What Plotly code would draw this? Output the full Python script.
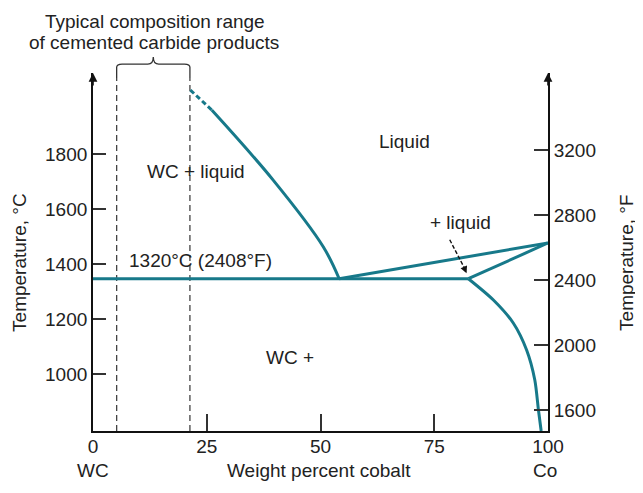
import plotly.graph_objects as go

# ---- data (weight % Co, temperature in °F on the right-hand axis) ----
liq_wc_x = [21.4, 26.1, 39.6, 50.6, 54.1]
liq_wc_F = [3569, 3446, 3015, 2605, 2408]
liq_co_x = [54.1, 100]
liq_co_F = [2408, 2628]
sol_x = [82.5, 100]
sol_F = [2408, 2628]
eut_x = [0, 82.5]
eut_F = [2408, 2408]
solvus_x = [82.5, 88.0, 92.4, 95.3, 97.1, 97.9, 98.5]
solvus_F = [2408, 2277, 2134, 1969, 1785, 1600, 1471]
range_x = [5.2, 21.3]          # typical cemented carbide range
range_F = [1471, 3643]
pointer_x = [78.4, 81.7]       # "+ liquid" pointer (dashed part)
pointer_F = [2648, 2470]

x_ticks = [0, 25, 50, 75, 100]
c_ticks = [1000, 1200, 1400, 1600, 1800]
f_ticks = [1600, 2000, 2400, 2800, 3200]

TEAL = "#17798a"
FONT = "Liberation Sans, Arial, Helvetica, sans-serif"
FS = 19

fig = go.Figure()
fig.add_trace(go.Scatter(x=[None], y=[None], yaxis="y", showlegend=False, hoverinfo="skip"))

# dashed vertical composition-range lines
for xv in range_x:
    fig.add_trace(go.Scatter(x=[xv, xv], y=range_F, yaxis="y2", mode="lines",
                             line=dict(color="#444", width=1.3, dash="6px,4px"),
                             showlegend=False, hoverinfo="skip"))

# liquidus (WC side): dashed top, solid remainder
fig.add_trace(go.Scatter(x=liq_wc_x[:2], y=liq_wc_F[:2], yaxis="y2", mode="lines",
                         line=dict(color=TEAL, width=3, dash="5px,3px"), showlegend=False))
fig.add_trace(go.Scatter(x=liq_wc_x[1:], y=liq_wc_F[1:], yaxis="y2", mode="lines",
                         line=dict(color=TEAL, width=3, shape="spline", smoothing=1.0), showlegend=False))
fig.add_trace(go.Scatter(x=liq_co_x, y=liq_co_F, yaxis="y2", mode="lines",
                         line=dict(color=TEAL, width=3), showlegend=False))
fig.add_trace(go.Scatter(x=sol_x, y=sol_F, yaxis="y2", mode="lines",
                         line=dict(color=TEAL, width=3), showlegend=False))
fig.add_trace(go.Scatter(x=eut_x, y=eut_F, yaxis="y2", mode="lines",
                         line=dict(color=TEAL, width=3), showlegend=False))
fig.add_trace(go.Scatter(x=solvus_x, y=solvus_F, yaxis="y2", mode="lines",
                         line=dict(color=TEAL, width=3, shape="spline", smoothing=0.8), showlegend=False))
# dashed pointer stem
fig.add_trace(go.Scatter(x=pointer_x, y=pointer_F, yaxis="y2", mode="lines",
                         line=dict(color="#111", width=1.4, dash="4px,2px"), showlegend=False,
                         hoverinfo="skip"))

tf = dict(family=FONT, size=FS, color="#222")

ann = []
def txt(t, x, y, xref="x", yref="y2", **kw):
    d = dict(text=t, x=x, y=y, xref=xref, yref=yref, showarrow=False, font=tf,
             xanchor="center", yanchor="middle")
    d.update(kw)
    ann.append(d)

txt("Liquid", 68.4, 3255)
txt("WC + liquid", 22.6, 3065)
txt("+ liquid", 80.7, 2757)
txt("1320°C (2408°F)", 23.6, 2523)
txt("WC +", 43.3, 1926)
txt("Typical composition range", 0.136, 1.1425, xref="paper", yref="paper")
txt("of cemented carbide products", 0.134, 1.0838, xref="paper", yref="paper")
txt("WC", 0.0, -0.109, xref="paper", yref="paper")
txt("Weight percent cobalt", 0.496, -0.109, xref="paper", yref="paper")
txt("Co", 0.993, -0.109, xref="paper", yref="paper")
txt("Temperature, °C", -0.160, 0.47, xref="paper", yref="paper", textangle=-90)
txt("Temperature, °F", 1.174, 0.47, xref="paper", yref="paper", textangle=-90)

# arrowhead for "+ liquid" pointer
ann.append(dict(x=82.1, y=2441, xref="x", yref="y2", ax=-3, ay=-7, text="",
                showarrow=True, arrowhead=2, arrowsize=1, arrowwidth=1.4, arrowcolor="#111"))
# axis arrowheads
for xa in [0, 100]:
    ann.append(dict(x=xa, y=1.0, xref="x", yref="paper", ax=0, ay=14, text="",
                    showarrow=True, arrowhead=2, arrowsize=1.1, arrowwidth=1.6, arrowcolor="#111"))

# brace over the composition range
xl, xr = range_x
xm = (xl + xr) / 2
brace = (f"M {xl},0.986 L {xl},1.016 Q {xl},1.025 {xl+1.2},1.025 L {xm-1.2},1.025 "
         f"Q {xm},1.025 {xm},1.045 Q {xm},1.025 {xm+1.2},1.025 L {xr-1.2},1.025 "
         f"Q {xr},1.025 {xr},1.016 L {xr},0.986")
shapes = [dict(type="path", path=brace, xref="x", yref="paper",
               line=dict(color="#333", width=1.3))]

axis_common = dict(showgrid=False, zeroline=False, showline=True, linecolor="#111",
                   linewidth=1.8, ticks="inside", tickcolor="#333", tickwidth=1.6,
                   tickfont=tf)

# page body has an 8px margin, so the figure is sized/offset to compensate
fig.update_layout(
    width=635, height=485,
    margin=dict(l=85, r=95, t=65, b=62, autoexpand=False),
    paper_bgcolor="white", plot_bgcolor="white",
    showlegend=False,
    font=tf,
    xaxis=dict(range=[0, 100], tickvals=x_ticks, ticktext=[str(v) for v in x_ticks],
               ticklen=17, ticklabelstandoff=-3, **axis_common),
    yaxis=dict(range=[794.6, 2094], tickvals=c_ticks, ticklen=13, automargin=False, **axis_common),
    yaxis2=dict(range=[1471, 3674], tickvals=f_ticks, ticklen=14, overlaying="y",
                side="right", automargin=False, **axis_common),
    annotations=ann,
    shapes=shapes,
)

fig.write_html("out.html", config={"displayModeBar": False})
